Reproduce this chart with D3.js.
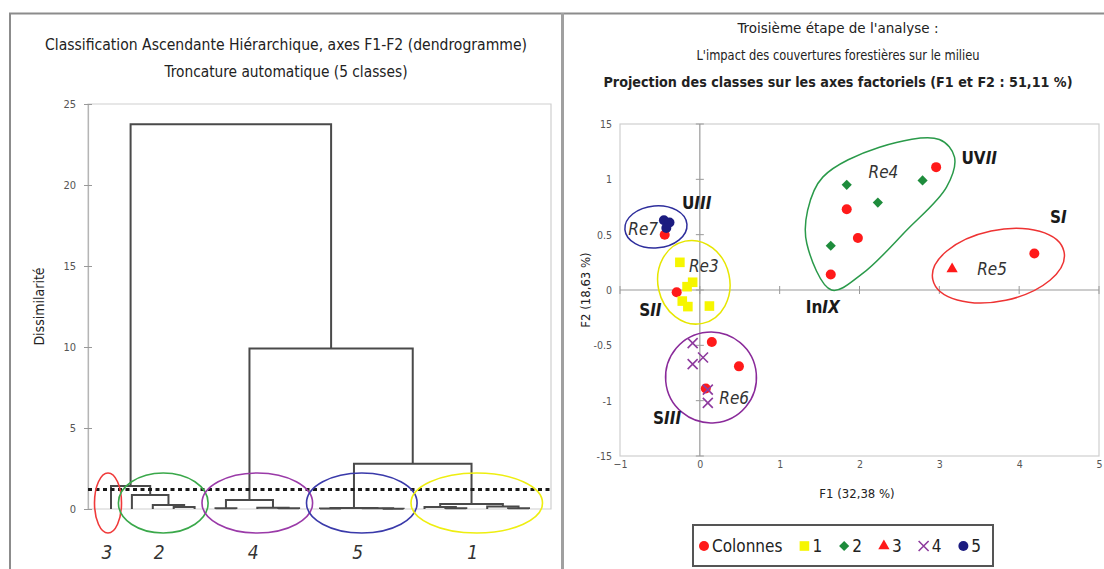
<!DOCTYPE html>
<html><head><meta charset="utf-8">
<script src="https://cdn.jsdelivr.net/npm/d3@7"></script>
<style>
body{margin:0;background:#fff;}
svg{display:block;}
text{font-family:"Liberation Sans Narrow","DejaVu Sans Condensed",Roboto,sans-serif;}
</style></head><body>
<svg id="c" width="1104" height="569"></svg>
<script>
// ================= DATA =================
// Dendrogram: class of each leaf, left to right
const leafClass = [3,2,2,2,2,4,4,4,4,4,5,5,5,5,5,1,1,1,1,1,1];
// merges: [childA, childB, dissimilarity]; leaves 0..20, merge k creates node 21+k
const merges = [
  [3,4,0.12],[2,21,0.25],[1,22,0.87],
  [5,6,0.05],[8,9,0.04],[7,25,0.08],[24,26,0.56],
  [10,11,0.03],[13,14,0.02],[12,29,0.04],[28,30,0.06],
  [16,17,0.05],[15,32,0.12],[19,20,0.05],[18,34,0.15],[33,35,0.31],
  [0,23,1.42],[31,36,2.80],[27,38,9.90],[37,39,23.75]
];
const truncation = 1.2;
const classOrder = [3,2,4,5,1];
const dendroTicks = [0,5,10,15,20,25];

// Scatter (F1, F2)
const colonnes = [[-0.44,0.50],[-0.29,-0.02],[0.15,-0.47],[0.49,-0.69],[0.075,-0.89],
                  [2.96,1.11],[1.84,0.73],[1.98,0.47],[1.64,0.14],[4.19,0.33]];
const class1 = [[-0.25,0.25],[-0.09,0.07],[-0.16,0.03],[-0.22,-0.10],[-0.15,-0.15],[0.12,-0.145]];
const class2 = [[1.84,0.95],[2.79,0.99],[2.23,0.79],[1.64,0.40]];
const class3 = [[3.16,0.19]];
const class4 = [[-0.09,-0.48],[0.04,-0.61],[-0.09,-0.67],[0.10,-0.90],[0.10,-1.02]];
const class5 = [[-0.45,0.63],[-0.38,0.61],[-0.42,0.56]];
const xTicks = [-1,0,1,2,3,4,5];
const yTicks = [-1.5,-1,-0.5,0,0.5,1,1.5];
const yTickLabels = ["-15","-1","-0.5","0","0.5","1","15"];
const legendLabels = ["Colonnes","1","2","3","4","5"];

// Annotations (data units)
const ellipses = [ // cx, cy, rx, ry, rotation, colour
  {cx:-0.55, cy:0.57, rx:0.39, ry:0.19, rot:-5, c:"#2e2e9c"},
  {cx:-0.075,cy:0.07, rx:0.45, ry:0.38, rot:-12, c:"#e6e600"},
  {cx:0.14, cy:-0.79, rx:0.57, ry:0.41, rot:40, c:"#8a2a9a"},
  {cx:3.74, cy:0.22, rx:0.84, ry:0.32, rot:-12, c:"#ee3333"}
];
const re4Outline = [[1.65,0.0],[1.34,0.42],[1.35,0.72],[1.54,1.02],[2.25,1.29],[3.0,1.36],
                    [3.19,1.20],[3.09,0.93],[2.59,0.54],[2.04,0.15]];
const reLabels = [["Re7",-0.71,0.55],["Re3",0.05,0.22],["Re6",0.43,-0.98],["Re4",2.3,1.07],["Re5",3.66,0.19]];
const zoneLabels = [["U","III",-0.04,0.79],["UV","II",3.5,1.19],["S","I",4.49,0.66],
                    ["S","II",-0.62,-0.18],["In","IX",1.54,-0.15],["S","III",-0.41,-1.16]];

// ================= DRAW =================
const svg = d3.select("#c");
const dark = "#222";

// panel borders
svg.append("path").attr("d","M10,569V13.5H1104").attr("fill","none").attr("stroke","#8c8c8c").attr("stroke-width",2);
svg.append("line").attr("x1",562.5).attr("x2",562.5).attr("y1",13).attr("y2",569).attr("stroke","#a0a0a0").attr("stroke-width",3);

// ---------- LEFT : dendrogram ----------
const L = svg.append("g");
L.append("text").attr("x",286).attr("y",50).attr("text-anchor","middle").attr("font-size",15.5).attr("fill",dark)
  .attr("textLength",482).attr("lengthAdjust","spacingAndGlyphs")
  .text("Classification Ascendante Hiérarchique, axes F1-F2 (dendrogramme)");
L.append("text").attr("x",286).attr("y",77).attr("text-anchor","middle").attr("font-size",15.5).attr("fill",dark)
  .attr("textLength",243).attr("lengthAdjust","spacingAndGlyphs")
  .text("Troncature automatique (5 classes)");

const xL = d3.scaleLinear().domain([0,20]).range([111,529]);
const yL = d3.scaleLinear().domain([0,25]).range([509,104]);
const pL = {x0:88, x1:551};

// frame
L.append("path").attr("d",`M${pL.x0},${yL(25)}H${pL.x1}V${yL(0)}H${pL.x0}Z`).attr("fill","none").attr("stroke","#cfcfcf").attr("stroke-width",1.2);
// axis
const ax = L.append("g").attr("transform",`translate(${pL.x0},0)`)
  .call(d3.axisLeft(yL).tickValues(dendroTicks).tickSize(0).tickPadding(12).tickFormat(d3.format("d")));
ax.select(".domain").attr("stroke","#b5b5b5").attr("stroke-width",1.2);
ax.selectAll(".tick text").attr("font-size",11).attr("fill","#555").attr("font-family",null);
ax.selectAll(".tick").append("line").attr("x1",-4).attr("x2",4).attr("stroke","#999");
L.append("text").attr("transform",`translate(44,${(yL(0)+yL(25))/2}) rotate(-90)`).attr("text-anchor","middle")
  .attr("font-size",14).attr("fill",dark).text("Dissimilarité");

// nodes
const pos = leafClass.map((c,i)=>({x:xL(i),h:0}));
merges.forEach(([a,b,h])=>pos.push({x:(pos[a].x+pos[b].x)/2,h,a,b}));
L.append("g").selectAll("path").data(pos.filter(d=>d.a!==undefined)).join("path")
  .attr("d",d=>`M${pos[d.a].x},${yL(pos[d.a].h)}V${yL(d.h)}H${pos[d.b].x}V${yL(pos[d.b].h)}`)
  .attr("fill","none").attr("stroke","#4a4a4a").attr("stroke-width",2);

// truncation line
L.append("line").attr("x1",pL.x0).attr("x2",pL.x1).attr("y1",yL(truncation)).attr("y2",yL(truncation))
  .attr("stroke","#1a1a1a").attr("stroke-width",3).attr("stroke-dasharray","4,3.5");

// class ellipses + labels
const classColor = {1:"#eeee10",2:"#3aa84a",3:"#f03a3a",4:"#9a3aa8",5:"#3a3aaa"};
classOrder.forEach(c=>{
  const idx = leafClass.map((v,i)=>v===c?i:-1).filter(i=>i>=0);
  const a = xL(d3.min(idx)), b = xL(d3.max(idx));
  const cx = (a+b)/2;
  L.append("ellipse").attr("cx",c===3?cx-3:cx).attr("cy",yL(0)-6).attr("rx",(b-a)/2+13.5).attr("ry",30)
    .attr("fill","none").attr("stroke",classColor[c]).attr("stroke-width",1.6);
  L.append("text").attr("x",cx-4).attr("y",559).attr("text-anchor","middle").attr("font-size",19)
    .attr("font-style","italic").attr("fill","#333").text(c);
});

// ---------- RIGHT : scatter ----------
const R = svg.append("g");
const rt = [["Troisième étape de l'analyse :",33,201,"normal"],
            ["L'impact des couvertures forestières sur le milieu",60,283,"normal"],
            ["Projection des classes sur les axes factoriels (F1 et F2 : 51,11 %)",87,469,"bold"]];
rt.forEach(([t,y,w,fw])=>R.append("text").attr("x",838).attr("y",y).attr("text-anchor","middle")
  .attr("font-size",14.5).attr("font-weight",fw).attr("fill",dark)
  .attr("textLength",w).attr("lengthAdjust","spacingAndGlyphs").text(t));

const xR = d3.scaleLinear().domain([-1,5]).range([620,1099]);
const yR = d3.scaleLinear().domain([-1.5,1.5]).range([456,124]);

R.append("rect").attr("x",xR(-1)).attr("y",yR(1.5)).attr("width",xR(5)-xR(-1)).attr("height",yR(-1.5)-yR(1.5))
  .attr("fill","none").attr("stroke","#cfcfcf").attr("stroke-width",1.2);
// zero lines
R.append("line").attr("x1",xR(0)).attr("x2",xR(0)).attr("y1",yR(1.5)).attr("y2",yR(-1.5)).attr("stroke","#9a9a9a").attr("stroke-width",1.2);
R.append("line").attr("x1",xR(-1)).attr("x2",xR(5)).attr("y1",yR(0)).attr("y2",yR(0)).attr("stroke","#9a9a9a").attr("stroke-width",1.2);
R.selectAll(".ytk").data(yTicks).join("line").attr("x1",xR(0)-4).attr("x2",xR(0)+4).attr("y1",d=>yR(d)).attr("y2",d=>yR(d)).attr("stroke","#9a9a9a");
R.selectAll(".xtk").data(xTicks).join("line").attr("y1",yR(0)-4).attr("y2",yR(0)+4).attr("x1",d=>xR(d)).attr("x2",d=>xR(d)).attr("stroke","#9a9a9a");
// tick labels via axes
const ay = R.append("g").attr("transform",`translate(${xR(-1)},0)`)
  .call(d3.axisLeft(yR).tickValues(yTicks).tickSize(0).tickPadding(8).tickFormat((d,i)=>yTickLabels[i]));
ay.select(".domain").remove();
ay.selectAll(".tick text").attr("font-size",10.5).attr("fill","#555").attr("font-family",null);
const axx = R.append("g").attr("transform",`translate(0,${yR(-1.5)})`)
  .call(d3.axisBottom(xR).tickValues(xTicks).tickSize(0).tickPadding(5).tickFormat(d3.format("d")));
axx.select(".domain").remove();
axx.selectAll(".tick text").attr("font-size",10.5).attr("fill","#555").attr("font-family",null);
R.append("text").attr("x",857).attr("y",498).attr("text-anchor","middle").attr("font-size",13).attr("fill",dark).text("F1 (32,38 %)");
R.append("text").attr("transform",`translate(590,${yR(0)}) rotate(-90)`).attr("text-anchor","middle").attr("font-size",13).attr("fill",dark).text("F2 (18,63 %)");

// enclosures
ellipses.forEach(e=>{
  const cx=xR(e.cx), cy=yR(e.cy);
  R.append("ellipse").attr("cx",cx).attr("cy",cy).attr("rx",xR(e.cx+e.rx)-cx).attr("ry",cy-yR(e.cy+e.ry))
    .attr("transform",`rotate(${e.rot},${cx},${cy})`).attr("fill","none").attr("stroke",e.c).attr("stroke-width",1.5);
});
R.append("path").attr("d",d3.line().x(d=>xR(d[0])).y(d=>yR(d[1])).curve(d3.curveCatmullRomClosed.alpha(0.5))(re4Outline))
  .attr("fill","none").attr("stroke","#2a9a4a").attr("stroke-width",1.5);

// markers
const cRed="#ff1a1a", cYel="#f6f600", cGrn="#1e8c3c", cPur="#8e3b9e", cNav="#1c1c80";
const sym = {
  circle:(g,col)=>g.append("circle").attr("r",5).attr("fill",col),
  square:(g,col)=>g.append("rect").attr("x",-4.8).attr("y",-4.8).attr("width",9.6).attr("height",9.6).attr("fill",col),
  diamond:(g,col)=>g.append("rect").attr("x",-3.6).attr("y",-3.6).attr("width",7.2).attr("height",7.2).attr("transform","rotate(45)").attr("fill",col),
  triangle:(g,col)=>g.append("path").attr("d",d3.symbol(d3.symbolTriangle,55)()).attr("fill",col),
  cross:(g,col)=>g.append("path").attr("d","M-5,-5L5,5M-5,5L5,-5").attr("stroke",col).attr("stroke-width",1.6).attr("fill","none")
};
const seriesDefs = [[colonnes,"circle",cRed],[class1,"square",cYel],[class2,"diamond",cGrn],
                    [class3,"triangle",cRed],[class4,"cross",cPur],[class5,"circle",cNav]];
seriesDefs.forEach(([data,s,col])=>{
  R.append("g").selectAll("g").data(data).join("g")
    .attr("transform",d=>`translate(${xR(d[0])},${yR(d[1])})`).each(function(){sym[s](d3.select(this),col);});
});

// labels
reLabels.forEach(([t,x,y])=>R.append("text").attr("x",xR(x)).attr("y",yR(y)+6).attr("text-anchor","middle")
  .attr("font-size",17).attr("font-style","italic").attr("fill","#333").text(t));
zoneLabels.forEach(([a,b,x,y])=>{
  const t = R.append("text").attr("x",xR(x)).attr("y",yR(y)+6).attr("text-anchor","middle")
    .attr("font-size",17).attr("font-weight","bold").attr("fill","#1a1a1a");
  t.append("tspan").text(a); t.append("tspan").attr("font-style","italic").text(b);
});

// legend
const lg = R.append("g");
lg.append("rect").attr("x",693).attr("y",525).attr("width",300).attr("height",41).attr("fill","#fff")
  .attr("stroke","#555").attr("stroke-width",2);
let lx = 704;
seriesDefs.forEach(([data,s,col],i)=>{
  const g = lg.append("g").attr("transform",`translate(${lx},546)`);
  sym[s](g,col);
  const t = lg.append("text").attr("x",lx+8).attr("y",552).attr("font-size",17)
    .attr("font-family","'Liberation Sans',Arial,sans-serif").attr("fill","#222").text(legendLabels[i]);
  lx = lx + 8 + t.node().getComputedTextLength() + 22;
});
</script>
</body></html>
